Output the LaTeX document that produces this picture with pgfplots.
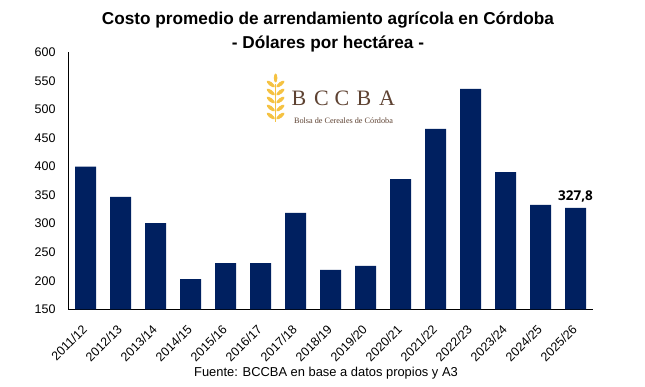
\documentclass[border=0pt]{standalone}
\usepackage{pgfplots}
\pgfplotsset{compat=1.18}
\usepackage{fontspec}
\setmainfont{Liberation Sans}
\newfontfamily\logoserif{Liberation Serif}
\newfontfamily\lblfont{Open Sans}
\definecolor{barblue}{HTML}{002060}
\definecolor{wheat}{HTML}{F5C242}
\definecolor{logobrown}{HTML}{5E4232}
\begin{document}
\begin{tikzpicture}[x=1pt,y=1pt]
\useasboundingbox (0,0) rectangle (645,386);
\node[font=\bfseries\fontsize{17.2}{20}\selectfont] at (328,366) {Costo promedio de arrendamiento agrícola en Córdoba};
\node[font=\bfseries\fontsize{17.2}{20}\selectfont] at (328,342) {- Dólares por hectárea -};
\node[font=\fontsize{12.9}{15}\selectfont] at (326,13) {Fuente: BCCBA en base a datos propios y A3};
\begin{axis}[
  at={(68pt,76.7pt)}, anchor=south west,
  scale only axis, width=525pt, height=257pt,
  xmin=-0.5, xmax=14.5, ymin=150, ymax=600,
  ytick={150,200,...,600},
  xtick={0,...,14},
  xticklabels={2011/12,2012/13,2013/14,2014/15,2015/16,2016/17,2017/18,2018/19,2019/20,2020/21,2021/22,2022/23,2023/24,2024/25,2025/26},
  axis x line*=bottom, axis y line*=left,
  axis line style={black, line width=0.9pt, -},
  major tick length=0pt,
  /pgf/number format/assume math mode=true,
  yticklabel style={font=\fontsize{12.5}{14}\selectfont, xshift=-9pt},
  xticklabel style={font=\fontsize{12.5}{14}\selectfont, xshift=-4pt, yshift=-13pt, rotate=45, anchor=north east, inner sep=1pt},
  ybar, bar width=21pt,
  clip=false,
]
\addplot[fill=barblue, draw=none, bar shift=0pt] coordinates {
(0,400) (1,347) (2,301) (3,203) (4,231) (5,231) (6,319) (7,219) (8,226) (9,378) (10,466) (11,536) (12,390) (13,333) (14,327.8)};
\addplot[draw=none, fill=none, bar shift=0pt, forget plot,
  nodes near coords={327,8},
  nodes near coords style={font=\lblfont\bfseries\fontsize{13.5}{15}\selectfont, text=black, yshift=2pt}] coordinates {(14,327.8)};
\end{axis}
% logo
\begin{scope}[wheat]
\fill (275,264) rectangle (276.2,302);
\foreach \yy in {270,278,286,294,302}{
  \fill[rotate around={-38:(270.8,\yy)}] (270.8,\yy) ellipse (5 and 1.9);
  \fill[rotate around={38:(280.4,\yy)}] (280.4,\yy) ellipse (5 and 1.9);
}
\fill (275.6,308) ellipse (1.8 and 4.5);
\end{scope}
\begin{scope}[font=\logoserif\fontsize{22}{24}\selectfont]
\node[text=logobrown] at (299,288) {B};
\node[text=logobrown] at (321.5,288) {C};
\node[text=logobrown] at (342,288) {C};
\node[text=logobrown] at (364,288) {B};
\node[text=logobrown] at (387,288) {A};
\end{scope}
\node[text=logobrown, font=\logoserif\fontsize{8.2}{9}\selectfont] at (343.5,265) {Bolsa de Cereales de Córdoba};
\end{tikzpicture}
\end{document}
